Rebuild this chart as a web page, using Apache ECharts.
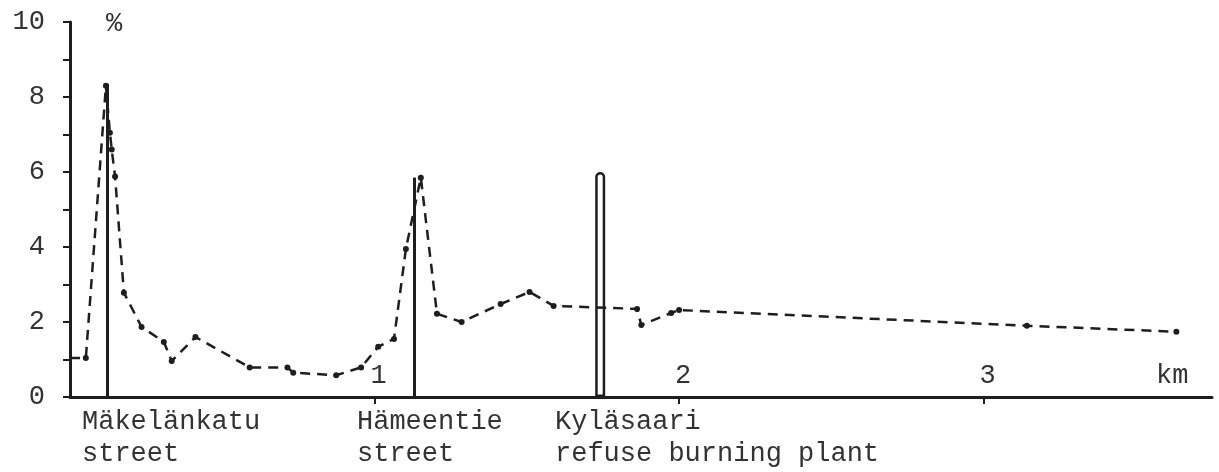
<!DOCTYPE html>
<html>
<head>
<meta charset="utf-8">
<script src="https://cdn.jsdelivr.net/npm/echarts@6/dist/echarts.min.js"></script>
<style>
  html, body { margin: 0; padding: 0; background: #fff; }
  #chart { width: 1219px; height: 472px; }
</style>
</head>
<body>
<div id="chart"></div>
<script>
// distance along the profile (km) and measured value (%)
const distKm = [0, 0.052, 0.118, 0.131, 0.137, 0.148, 0.177, 0.235, 0.308, 0.334, 0.412,
  0.59, 0.714, 0.733, 0.874, 0.956, 1.012, 1.064, 1.103, 1.152, 1.205, 1.286, 1.414,
  1.509, 1.588, 1.862, 1.876, 1.974, 2.0, 3.142, 3.633]
const conc = [1.04, 1.04, 8.3, 7.05, 6.6, 5.88, 2.78, 1.87, 1.47, 0.96, 1.6,
  0.79, 0.79, 0.65, 0.58, 0.79, 1.34, 1.55, 3.95, 5.85, 2.22, 2.0, 2.48,
  2.8, 2.43, 2.35, 1.92, 2.24, 2.32, 1.9, 1.74]

// street crossings (solid lines) and refuse burning plant (hollow bar)
const streetKm = [0.121, 1.129]
const streetTop = [8.35, 5.85]
const plantKm = [1.741]
const plantTop = [6.0]

const yTicks = [0, 2, 4, 6, 8, 10]
const xTicks = [1, 2, 3]

const ink = '#1e1e1e'
const txt = '#333'
const font = 'Liberation Mono'

const chart = echarts.init(document.getElementById('chart'))

const lineData = distKm.map((d, i) => i === 0
  ? { value: [d, conc[i]], symbol: 'none' }
  : [d, conc[i]])

chart.setOption({
  animation: false,
  backgroundColor: '#fff',
  grid: { left: 70, right: 7, top: 22, bottom: 75 },
  xAxis: {
    type: 'value',
    min: 0,
    max: 3.75,
    interval: 1,
    splitLine: { show: false },
    axisLine: { lineStyle: { color: ink, width: 3 } },
    axisTick: { customValues: xTicks, length: 7, lineStyle: { color: ink, width: 2 } },
    axisLabel: {
      customValues: xTicks,
      inside: true,
      margin: 8,
      padding: [0, 0, 0, 8],
      color: txt,
      fontFamily: font,
      fontSize: 27
    }
  },
  yAxis: {
    type: 'value',
    min: 0,
    max: 10,
    interval: 1,
    splitLine: { show: false },
    axisLine: { show: true, lineStyle: { color: ink, width: 3 } },
    axisTick: { show: true, length: 7, lineStyle: { color: ink, width: 2 } },
    axisLabel: {
      margin: 25,
      color: txt,
      fontFamily: font,
      fontSize: 27,
      formatter: v => yTicks.includes(v) ? String(v) : ''
    }
  },
  graphic: [
    { type: 'text', left: 106, top: 10, style: { text: '%', fill: txt, font: '27px "Liberation Mono"' } },
    { type: 'text', left: 1156, top: 362, style: { text: 'km', fill: txt, font: '27px "Liberation Mono"' } },
    { type: 'text', left: 82, top: 406, style: { text: 'Mäkelänkatu\nstreet', fill: txt, font: '27px "Liberation Mono"', lineHeight: 32 } },
    { type: 'text', left: 357, top: 406, style: { text: 'Hämeentie\nstreet', fill: txt, font: '27px "Liberation Mono"', lineHeight: 32 } },
    { type: 'text', left: 555, top: 406, style: { text: 'Kyläsaari\nrefuse burning plant', fill: txt, font: '27px "Liberation Mono"', lineHeight: 32 } }
  ],
  series: [
    {
      type: 'bar',
      z: 2,
      barWidth: 10,
      data: plantKm.map((d, i) => [d, plantTop[i]]),
      itemStyle: {
        color: 'rgba(0,0,0,0)',
        borderColor: ink,
        borderWidth: 2.5,
        borderRadius: [5, 5, 0, 0]
      }
    },
    {
      type: 'line',
      z: 3,
      data: lineData,
      symbol: 'circle',
      symbolSize: 6,
      itemStyle: { color: ink },
      lineStyle: { color: ink, width: 2.5, type: [10, 7] },
      markLine: {
        silent: true,
        symbol: ['none', 'none'],
        label: { show: false },
        lineStyle: { type: 'solid', color: ink, width: 3 },
        data: streetKm.map((d, i) => [{ coord: [d, 0] }, { coord: [d, streetTop[i]] }])
      }
    }
  ]
})
</script>
</body>
</html>
